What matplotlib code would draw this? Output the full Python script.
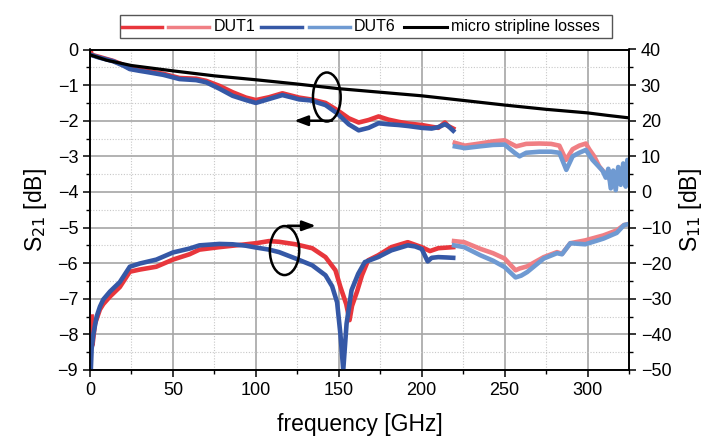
import matplotlib
matplotlib.use("Agg")
import matplotlib.pyplot as plt
from matplotlib.patches import Ellipse, Rectangle
from matplotlib.lines import Line2D
from matplotlib.ticker import MultipleLocator

plt.rcParams['font.family'] = ['Liberation Sans', 'DejaVu Sans']

# ---------------- data ----------------
# micro stripline losses (S21, left axis)
f_ms = [0, 10, 25, 50, 75, 100, 125, 150, 175, 200, 225, 250, 275, 300, 312, 325]
s21_ms = [-0.15, -0.3, -0.45, -0.6, -0.74, -0.85, -0.97, -1.1, -1.2, -1.3, -1.43,
          -1.56, -1.68, -1.78, -1.85, -1.92]

# DUT1 S21, band 1 (dark) and band 2 (light)
f_d1_s21_a = [0.5, 1, 5, 14, 20, 24, 34, 44, 54, 64, 70, 78, 86, 94, 100, 108, 116,
              126, 133, 142, 149, 156, 162, 168, 174, 180, 186, 192, 200, 206, 210,
              214, 216, 219]
s21_d1_a = [-0.05, -0.15, -0.2, -0.32, -0.43, -0.53, -0.6, -0.68, -0.8, -0.82, -0.88,
            -1.02, -1.2, -1.35, -1.42, -1.34, -1.23, -1.35, -1.4, -1.5, -1.7, -1.93,
            -2.05, -1.98, -1.88, -1.97, -2.03, -2.08, -2.12, -2.17, -2.2, -2.05, -2.15,
            -2.22]
f_d1_s21_b = [220, 226, 235, 243, 250, 257, 263, 271, 278, 283, 287, 291, 295, 299,
              301, 304, 307, 310, 313, 315, 317, 319, 321, 323, 325]
s21_d1_b = [-2.62, -2.7, -2.64, -2.58, -2.55, -2.72, -2.65, -2.64, -2.65, -2.7, -3.1,
            -2.8, -2.7, -2.64, -2.8, -3.0, -3.28, -3.45, -3.6, -3.85, -3.6, -3.75,
            -3.5, -3.7, -3.4]

# DUT6 S21
f_d6_s21_a = [0.5, 5, 14, 20, 24, 30, 34, 44, 54, 64, 70, 78, 86, 94, 100, 108, 116,
              122, 126, 133, 142, 149, 156, 162, 168, 174, 180, 186, 192, 200, 206,
              210, 214, 216, 219]
s21_d6_a = [-0.15, -0.22, -0.33, -0.45, -0.55, -0.6, -0.63, -0.71, -0.83, -0.86, -0.92,
            -1.1, -1.3, -1.42, -1.5, -1.39, -1.28, -1.35, -1.4, -1.43, -1.56, -1.79,
            -2.1, -2.27, -2.2, -2.07, -2.1, -2.12, -2.15, -2.2, -2.22, -2.18, -2.1,
            -2.15, -2.28]
f_d6_s21_b = [220, 226, 235, 243, 250, 256, 259, 263, 271, 278, 283, 287.2, 291, 295,
              299, 303, 306, 309, 311, 312.5, 314, 315.5, 317, 318.5, 320, 321.5, 323,
              324, 325]
s21_d6_b = [-2.72, -2.77, -2.72, -2.68, -2.67, -2.9, -3.0, -2.9, -2.87, -2.87, -2.9,
            -3.38, -3.0, -2.9, -2.82, -3.1, -3.25, -3.4, -3.6, -3.35, -3.9, -3.4,
            -3.95, -3.3, -3.8, -3.2, -3.85, -3.1, -3.5]

# DUT1 S11 (right axis)
f_d1_s11_a = [1, 1.5, 3, 6, 8, 12, 18, 24, 30, 40, 50, 60, 66, 78, 86, 100, 108, 114,
              124, 134, 142, 148, 151, 154.5, 156.5, 158, 161, 164, 167.7, 173.7,
              181.7, 191.6, 200, 205, 210, 219]
s11_d1_a = [-35, -43, -37, -33, -31.5, -29.4, -26.7, -22.4, -21.8, -21, -19, -17.5,
            -16.2, -15.5, -15.1, -14.4, -13.8, -14, -14.7, -15.8, -18.3, -22, -26.7,
            -31.5, -36, -32, -28, -23.4, -19.2, -17.8, -15.5, -14.1, -15.5, -16.6,
            -15.8, -15.5]
f_d1_s11_b = [219.5, 225.6, 235.5, 243, 250, 256.6, 259, 263.6, 273.6, 281.6, 284.6,
              289.6, 298.6, 309.6, 317.6, 322, 325]
s11_d1_b = [-13.8, -14.1, -16, -17.2, -18.7, -22, -21.5, -20.9, -18.3, -16.9, -17.4,
            -14.4, -13.6, -12.2, -10.8, -9.3, -9]

# DUT6 S11
f_d6_s11_a = [0.5, 1, 2, 4, 6, 8, 12, 18, 24, 30, 40, 50, 60, 66, 78, 86, 94, 100,
              108, 114, 124, 134, 142, 146, 149, 151, 152.7, 154.7, 157.7, 161.7,
              165.7, 173.7, 181.7, 191.6, 196, 200, 203.6, 206, 210, 215, 219]
s11_d6_a = [-50, -44, -40, -35, -32.2, -30.2, -28, -25.3, -21, -20.1, -19, -17,
            -15.9, -15, -14.6, -14.7, -15.1, -15.6, -16.2, -16.9, -18.7, -20.6, -23.4,
            -26.5, -31, -40, -50, -37, -27.6, -23, -19.7, -18.3, -16.4, -15, -15.3,
            -16, -19.5, -18.5, -18.3, -18.4, -18.5]
f_d6_s11_b = [219.5, 225.6, 235.5, 243, 250, 256.6, 260, 263.6, 273.6, 281.6, 284.6,
              289.6, 298.6, 309.6, 317.6, 322, 325]
s11_d6_b = [-15, -15.5, -17.8, -19.3, -21.1, -24, -23.5, -22.5, -18.7, -17.2, -17.5,
            -14.4, -14.7, -13.1, -11.5, -9.3, -9]

legend_labels = ["DUT1", "DUT6", "micro stripline losses"]

# ---------------- style ----------------
RED = "#e8363c"
LRED = "#f07f84"
BLUE = "#3558a6"
LBLUE = "#6f9ad2"
LW = 3.3

fig = plt.figure(figsize=(7.19, 4.38), dpi=100)
ax = fig.add_axes([90 / 719, 1 - 370 / 438, (629 - 90) / 719, (370 - 49.5) / 438])
ax2 = ax.twinx()

ax.set_xlim(0, 325)
ax.set_ylim(-9, 0)
ax2.set_ylim(-50, 40)

ax.xaxis.set_major_locator(MultipleLocator(50))
ax.xaxis.set_minor_locator(MultipleLocator(25))
ax.yaxis.set_major_locator(MultipleLocator(1))
ax.yaxis.set_minor_locator(MultipleLocator(0.5))
ax2.yaxis.set_major_locator(MultipleLocator(10))
ax2.yaxis.set_minor_locator(MultipleLocator(5))

ax.grid(True, which='major', color='#a6a6a6', lw=1.2, ls='-')
ax.grid(True, which='minor', color='#c8c8c8', lw=0.8, ls=(0, (1, 1.5)))
ax.set_axisbelow(True)

for a in (ax, ax2):
    a.tick_params(which='major', direction='out', length=5, width=1.1, labelsize=13)
    a.tick_params(which='minor', direction='out', length=3, width=1.0)
    for s in a.spines.values():
        s.set_linewidth(1.2)
        s.set_color('black')

# S21 curves
ax.plot(f_d1_s21_a, s21_d1_a, color=RED, lw=LW, solid_joinstyle='round')
ax.plot(f_d1_s21_b, s21_d1_b, color=LRED, lw=LW, solid_joinstyle='round')
ax.plot(f_d6_s21_a, s21_d6_a, color=BLUE, lw=LW, solid_joinstyle='round')
ax.plot(f_d6_s21_b, s21_d6_b, color=LBLUE, lw=LW, solid_joinstyle='round')
ax.plot(f_ms, s21_ms, color='black', lw=2.3)

# S11 curves
ax2.plot(f_d1_s11_a, s11_d1_a, color=RED, lw=LW, solid_joinstyle='round')
ax2.plot(f_d1_s11_b, s11_d1_b, color=LRED, lw=LW, solid_joinstyle='round')
ax2.plot(f_d6_s11_a, s11_d6_a, color=BLUE, lw=LW, solid_joinstyle='round')
ax2.plot(f_d6_s11_b, s11_d6_b, color=LBLUE, lw=LW, solid_joinstyle='round')

ax.set_xlabel("frequency [GHz]", fontsize=16.5, labelpad=10)
ax.set_ylabel("S$_{21}$ [dB]", fontsize=16.5, labelpad=6)
ax2.set_ylabel("S$_{11}$ [dB]", fontsize=16.5, labelpad=4)

# annotations: ellipses and arrows
ax2.add_patch(Ellipse((142.8, 40 - 13.34), 16.7, 13.76, fill=False, ec='black',
                      lw=1.8, zorder=10))
ax2.annotate("", xy=(121.5, 20.0), xytext=(147.6, 20.0),
             arrowprops=dict(arrowstyle='-|>,head_length=0.8,head_width=0.3',
                             color='black', lw=1.8), zorder=10)
ax2.add_patch(Ellipse((117.3, -16.46), 17.7, 13.76, fill=False, ec='black',
                      lw=1.8, zorder=10))
ax2.annotate("", xy=(137.8, -9.5), xytext=(117.5, -9.5),
             arrowprops=dict(arrowstyle='-|>,head_length=0.8,head_width=0.3',
                             color='black', lw=1.8), zorder=10)

# manual legend box on top
def fx(px):
    return px / 719

def fy(py):
    return 1 - py / 438

fig.add_artist(Rectangle((fx(120), fy(38)), fx(612) - fx(120), fy(15) - fy(38),
                         transform=fig.transFigure, fill=False, ec='#555555', lw=1.0))
ly = fy(26.5)
for (x0, x1, c) in [(122, 162, RED), (168, 209, LRED), (261, 302, BLUE),
                    (309, 350, LBLUE), (404, 447, 'black')]:
    fig.add_artist(Line2D([fx(x0), fx(x1)], [ly, ly], transform=fig.transFigure,
                          color=c, lw=2.5 if c != 'black' else 2.2))
for (x, t) in zip([214, 354, 451], legend_labels):
    fig.text(fx(x), ly, t, fontsize=11.5, va='center', ha='left')

fig.savefig("out.png", dpi=100)
